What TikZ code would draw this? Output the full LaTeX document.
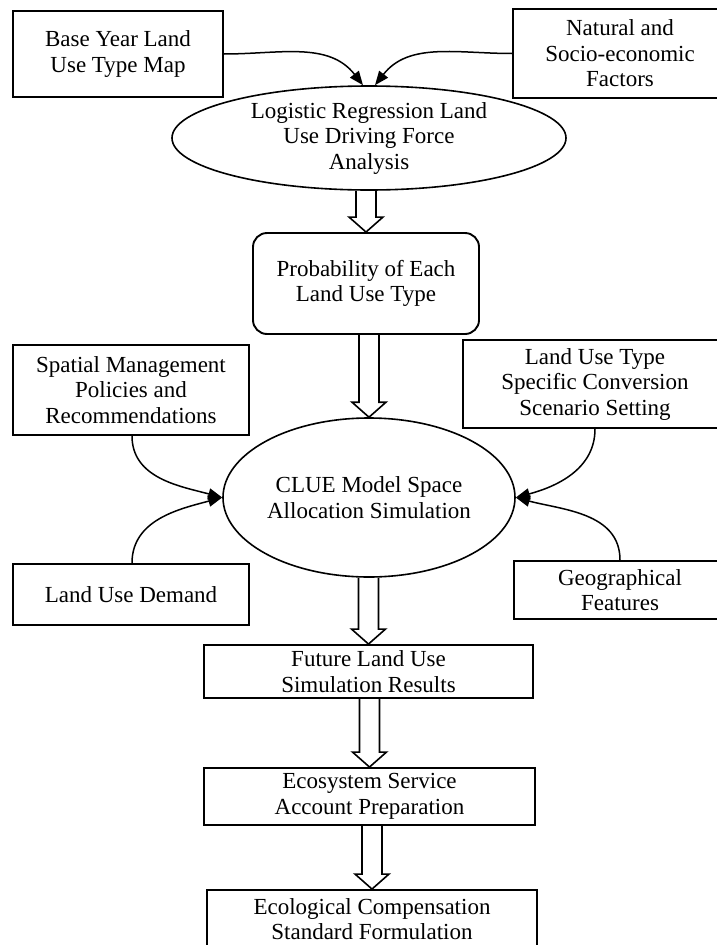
\documentclass[tikz,border=0pt]{standalone}
\usepackage{fontspec}
\setmainfont{Liberation Serif}
\usetikzlibrary{shapes,arrows.meta,positioning,calc}

% open double-line arrow between two stacked nodes
\newcommand{\hollowarrow}[2]{%
  \coordinate (ha) at (#1.south -| #2.north);
  \draw[hollow] ($(ha)+(-10,0)$) -- ($(#2.north)+(-10,15)$) -- ($(#2.north)+(-17,15)$)
    -- (#2.north) -- ($(#2.north)+(17,15)$) -- ($(#2.north)+(10,15)$) -- ($(ha)+(10,0)$);}

\begin{document}
\begin{tikzpicture}[x=1pt, y=1pt,
  box/.style={rectangle, draw, line width=1.9pt, inner sep=0pt, align=center,
    font=\fontsize{23}{25.5}\selectfont},
  oval/.style={ellipse, draw, line width=1.6pt, inner sep=0pt, align=center,
    font=\fontsize{23}{25.5}\selectfont},
  arr/.style={-{Triangle[length=14pt, width=11pt]}, line width=1.5pt},
  hollow/.style={line width=1.6pt, line join=miter}
]
  \useasboundingbox (0,0) rectangle (717,-945);

  \node[box, minimum width=210, minimum height=86] (base) at (118,-54) {Base Year Land\\Use Type Map};
  \node[box, minimum width=214, minimum height=89] (natural) at (620,-53.5) {Natural and\\Socio-economic\\Factors};
  \node[oval, minimum width=394, minimum height=104] (logit) at (369,-138) {Logistic Regression Land\\Use Driving Force\\Analysis};
  \node[box, rounded corners=14pt, minimum width=226, minimum height=101] (prob) at (366,-283.5) {Probability of Each\\Land Use Type};

  \node[box, minimum width=236, minimum height=90] (policy) at (131,-390) {Spatial Management\\Policies and\\Recommendations};
  \node[box, minimum width=264, minimum height=88] (conv) at (595,-384) {Land Use Type\\Specific Conversion\\Scenario Setting};
  \node[oval, minimum width=292, minimum height=159] (clue) at (369,-497.5) {CLUE Model Space\\Allocation Simulation};
  \node[box, minimum width=236, minimum height=61] (demand) at (131,-594.5) {Land Use Demand};
  \node[box, minimum width=212, minimum height=58] (geo) at (620,-590) {Geographical\\Features};

  \node[box, minimum width=329, minimum height=53] (future) at (368.5,-671.5) {Future Land Use\\Simulation Results};
  \node[box, minimum width=331, minimum height=57] (account) at (369.5,-796.5) {Ecosystem Service\\Account Preparation};
  \node[box, minimum width=330, minimum height=58] (standard) at (372,-919) {Ecological Compensation\\Standard Formulation};

  % inputs
  \draw[arr] (base.east) to[out=0, in=128] ($(logit.north)+(-6,0)$);
  \draw[arr] (natural.west) to[out=180, in=52] ($(logit.north)+(6,0)$);
  \draw[arr] ($(policy.south)+(1,0)$) to[out=-90, in=165] (clue.west);
  \draw[arr] ($(demand.north)+(1,0)$) to[out=90, in=195] (clue.west);
  \draw[arr] (conv.south) to[out=-90, in=15] (clue.east);
  \draw[arr] (geo.north) to[out=90, in=-15] (clue.east);

  % main flow
  \hollowarrow{logit}{prob}
  \hollowarrow{prob}{clue}
  \hollowarrow{clue}{future}
  \hollowarrow{future}{account}
  \hollowarrow{account}{standard}
\end{tikzpicture}
\end{document}
